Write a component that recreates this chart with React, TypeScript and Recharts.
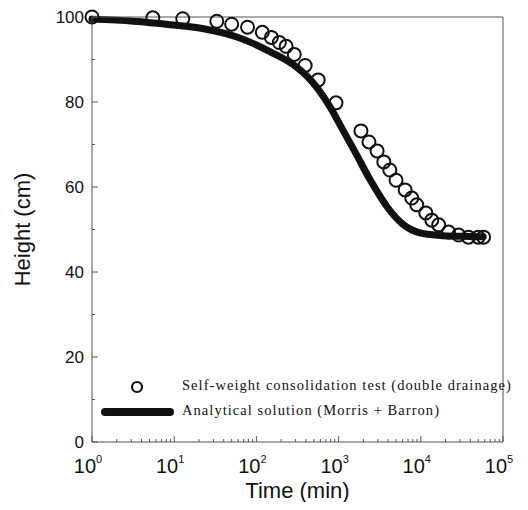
import React from "react";
import {
  ComposedChart,
  Legend,
  Line,
  Scatter,
  XAxis,
  YAxis,
} from "recharts";

// test data: self-weight consolidation (double drainage)
const testTime = [
  1, 5.5, 12.7, 33, 50, 78, 118, 152, 190, 230, 289, 392, 565, 930, 1870, 2340,
  2940, 3550, 4200, 5000, 6450, 7770, 8930, 11500, 13600, 16500, 21800, 28800,
  38000, 50000, 58000,
];
const testHeight = [
  100, 99.8, 99.6, 99, 98.3, 97.6, 96.4, 95.2, 94, 93.1, 91.2, 88.6, 85.2,
  79.8, 73.2, 70.6, 68.5, 65.9, 64, 61.6, 59.3, 57.4, 55.8, 53.9, 52.2, 51.1,
  49.4, 48.7, 48.2, 48.2, 48.2,
];

// analytical solution (Morris + Barron)
const curveTime = [
  1, 3.2, 8.9, 22, 58, 148, 310, 417, 560, 790, 1120, 1590, 2400, 3900, 6000,
  9800, 17000, 31600, 57500,
];
const curveHeight = [
  99.5, 99.0, 98.2, 97.3, 95.3, 91.8, 88.2, 86.0, 83.1, 78.8, 73.5, 68.2, 61.8,
  55.3, 51.3, 49.2, 48.6, 48.4, 48.3,
];

const xExponents = [0, 1, 2, 3, 4, 5];
const yTicks = [0, 10, 20, 30, 40, 50, 60, 70, 80, 90, 100];
const yLabels = [0, 20, 40, 60, 80, 100];

const INK = "#111";
const AXIS = "#555";
const SANS = "Arial, 'Liberation Sans', sans-serif";
const SERIF = "'Liberation Serif', 'DejaVu Serif', serif";

const testData = testTime.map((t, i) => ({ t, h: testHeight[i] }));
const curveData = curveTime.map((t, i) => ({ t, h: curveHeight[i] }));

const xTicks: number[] = [];
xExponents.slice(0, -1).forEach((e) => {
  for (let m = 1; m < 10; m++) xTicks.push(m * Math.pow(10, e));
});
xTicks.push(Math.pow(10, xExponents[xExponents.length - 1]));

const isMajor = (v: number) => {
  const l = Math.log10(v);
  return Math.abs(l - Math.round(l)) < 1e-6;
};

const BottomTick = (props: any) => {
  const { x, y, payload } = props;
  const v = payload.value;
  const major = isMajor(v);
  return (
    <g>
      <line x1={x} x2={x} y1={y} y2={y - (major ? 6 : 3)} stroke={AXIS} />
      {major && (
        <text x={x - 4} y={y + 31} textAnchor="middle" fontSize={20} fill={INK} fontFamily={SANS}>
          10
          <tspan dy={-10} fontSize={11}>
            {Math.round(Math.log10(v))}
          </tspan>
        </text>
      )}
    </g>
  );
};

const TopTick = (props: any) => {
  const { x, y, payload } = props;
  const major = isMajor(payload.value);
  return <line x1={x} x2={x} y1={y} y2={y + (major ? 6 : 3)} stroke={AXIS} />;
};

const LeftTick = (props: any) => {
  const { x, y, payload } = props;
  const v = payload.value;
  const major = yLabels.includes(v);
  return (
    <g>
      <line x1={x} x2={x + (major ? 6 : 3)} y1={y} y2={y} stroke={AXIS} />
      {major && (
        <text x={x - 8} y={y + 6} textAnchor="end" fontSize={17} fill={INK} fontFamily={SANS}>
          {v}
        </text>
      )}
    </g>
  );
};

const RightTick = (props: any) => {
  const { x, y, payload } = props;
  const major = yLabels.includes(payload.value);
  return <line x1={x} x2={x - (major ? 6 : 3)} y1={y} y2={y} stroke={AXIS} />;
};

const Ring = (p: any) => (
  <circle cx={p.cx} cy={p.cy} r={6.5} fill="none" stroke={INK} strokeWidth={2} />
);

const legendText: React.CSSProperties = {
  fontFamily: SERIF,
  fontSize: 14.5,
  color: INK,
  letterSpacing: 1.05,
  whiteSpace: "nowrap",
};

const LegendBox = () => (
  <div style={{ position: "relative", width: 440, height: 50 }}>
    <svg width={80} height={50} style={{ position: "absolute", left: 0, top: 0 }}>
      <circle cx={42} cy={11} r={5} fill="none" stroke={INK} strokeWidth={2.2} />
      <line x1={10} x2={75} y1={36} y2={36} stroke={INK} strokeWidth={8} strokeLinecap="round" />
    </svg>
    <div style={{ ...legendText, position: "absolute", left: 87, top: 1 }}>
      Self-weight consolidation test (double drainage)
    </div>
    <div style={{ ...legendText, position: "absolute", left: 87, top: 26 }}>
      Analytical solution (Morris + Barron)
    </div>
  </div>
);

export default function App() {
  return (
    <div style={{ margin: -8, width: 528, height: 510, background: "#fff", position: "relative" }}>
      <ComposedChart
        width={528}
        height={510}
        margin={{ top: 16, right: 24, left: 32, bottom: 8 }}
      >
        <XAxis
          xAxisId="bottom"
          dataKey="t"
          type="number"
          scale="log"
          domain={[1, 100000]}
          ticks={xTicks}
          interval={0}
          height={60}
          tickSize={0}
          tickMargin={0}
          axisLine={{ stroke: AXIS }}
          tick={<BottomTick />}
          label={{
            value: "Time (min)",
            position: "insideBottom",
            offset: 4,
            fontSize: 22,
            fill: INK,
            fontFamily: SANS,
          }}
        />
        <XAxis
          xAxisId="top"
          orientation="top"
          dataKey="t"
          type="number"
          scale="log"
          domain={[1, 100000]}
          ticks={xTicks}
          interval={0}
          height={1}
          tickSize={0}
          tickMargin={0}
          axisLine={{ stroke: AXIS }}
          tick={<TopTick />}
        />
        <YAxis
          yAxisId="left"
          type="number"
          domain={[0, 100]}
          ticks={yTicks}
          interval={0}
          width={60}
          tickSize={0}
          tickMargin={0}
          axisLine={{ stroke: AXIS }}
          tick={<LeftTick />}
          label={{
            value: "Height (cm)",
            angle: -90,
            position: "insideLeft",
            offset: -10,
            style: { textAnchor: "middle" },
            fontSize: 22,
            fill: INK,
            fontFamily: SANS,
          }}
        />
        <YAxis
          yAxisId="right"
          orientation="right"
          type="number"
          domain={[0, 100]}
          ticks={yTicks}
          interval={0}
          width={1}
          tickSize={0}
          tickMargin={0}
          axisLine={{ stroke: AXIS }}
          tick={<RightTick />}
        />
        <Line
          xAxisId="bottom"
          yAxisId="left"
          data={curveData}
          dataKey="h"
          type="monotone"
          stroke={INK}
          strokeWidth={7}
          strokeLinecap="round"
          dot={false}
          activeDot={false}
          isAnimationActive={false}
        />
        <Scatter
          xAxisId="bottom"
          yAxisId="left"
          data={testData}
          dataKey="h"
          shape={<Ring />}
          isAnimationActive={false}
        />
        <Legend
          layout="vertical"
          align="center"
          verticalAlign="middle"
          content={<LegendBox />}
          wrapperStyle={{ position: "absolute", left: 95, top: 376, width: 440, height: 50 }}
        />
      </ComposedChart>
    </div>
  );
}
